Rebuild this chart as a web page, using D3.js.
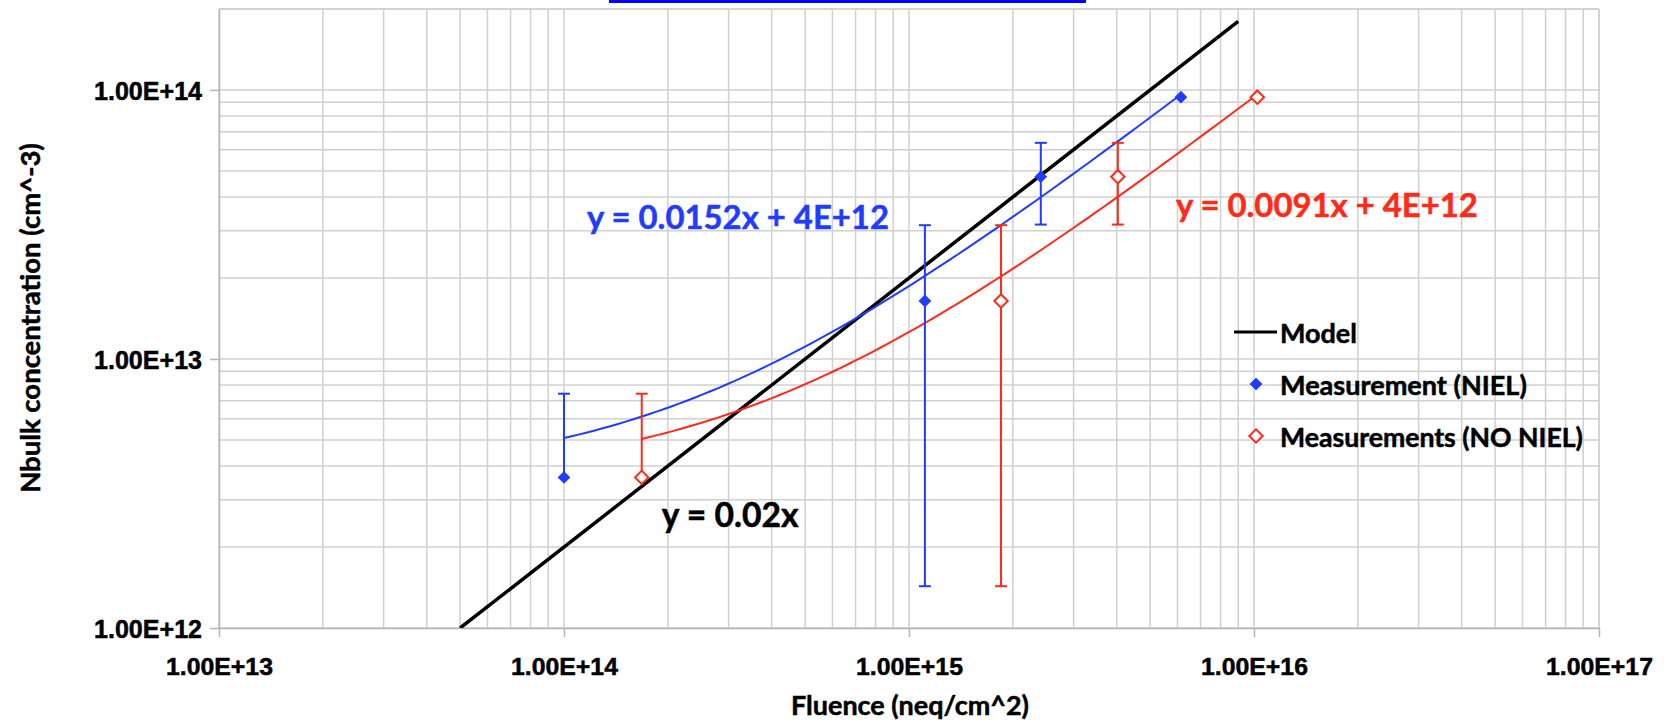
<!DOCTYPE html>
<html lang="en">
<head>
  <meta charset="UTF-8" />
  <title>Nbulk vs Fluence</title>
  <script src="https://d3js.org/d3.v7.min.js"></script>
  <style>
    body { margin: 0; background: #fff; }
    svg { font-family: Lato, "Open Sans", sans-serif; font-weight: bold; }
    svg text { stroke-width: 0.5px; }
    .grid line { stroke: #d0d0d0; stroke-width: 1.5px; }
    .axis path, .axis line { stroke: #b4b4b4; stroke-width: 1.5px; }
    .axis text { fill: #000; stroke: #000; font-size: 22px; }
    .trend { fill: none; stroke-width: 2px; }
    .err { stroke-width: 2px; }
  </style>
</head>
<body>
  <svg width="1669" height="724"></svg>

  <script>
    const xTicks = [1e13, 1e14, 1e15, 1e16, 1e17];
    const xTickLabels = ["1.00E+13", "1.00E+14", "1.00E+15", "1.00E+16", "1.00E+17"];
    const yTicks = [1e12, 1e13, 1e14];
    const yTickLabels = ["1.00E+12", "1.00E+13", "1.00E+14"];

    const fluenceNiel = [1.0e14, 1.112e15, 2.41e15, 6.14e15];
    const fluenceNoNiel = [1.68e14, 1.848e15, 4.03e15, 1.022e16];
    const nbulk = [3.63e12, 1.643e13, 4.76e13, 9.40e13];
    const nbulkErr = [3.8e12, 1.5e13, 1.6e13, 0];

    const modelFluence = [5e13, 9e15];
    const modelNbulk = [1e12, 1.8e14];

    const seriesNames = ["Model", "Measurement (NIEL)", "Measurements (NO NIEL)"];
    const equations = ["y = 0.02x", "y = 0.0152x + 4E+12", "y = 0.0091x + 4E+12"];
    // where each equation label starts (fluence, nbulk at baseline)
    const eqAnchors = [[1.92e14, 2.37e12], [1.166e14, 3.04e13], [5.94e15, 3.37e13]];

    const blue = "#1f3cff", red = "#ff2a17";
    const pLeft = 219, pRight = 1599, pTop = 9, pBottom = 628;

    const svg = d3.select("svg");

    const x = d3.scaleLog().domain([1e13, 1e17]).range([pLeft, pRight]);
    const y = d3.scaleLog().domain([1e12, 2e14]).range([pBottom, pTop]);

    // scale font so text has the wanted width
    function fit(sel, w) {
      sel.each(function () {
        const fs = parseFloat(getComputedStyle(this).fontSize);
        const len = this.getComputedTextLength();
        this.style.fontSize = (fs * w / len) + "px";
      });
    }

    // hyperlink underline cut off at the top
    svg.append("rect").attr("x", 609).attr("y", 0).attr("width", 477).attr("height", 3).attr("fill", "#0000ff");

    // grid
    const grid = svg.append("g").attr("class", "grid");
    grid.selectAll(".v").data(x.ticks()).join("line")
      .attr("x1", d => x(d)).attr("x2", d => x(d))
      .attr("y1", pTop).attr("y2", pBottom);
    grid.selectAll(".h").data(y.ticks()).join("line")
      .attr("x1", pLeft).attr("x2", pRight)
      .attr("y1", d => y(d)).attr("y2", d => y(d));
    grid.append("line").attr("x1", pLeft).attr("x2", pRight).attr("y1", pTop).attr("y2", pTop);
    grid.append("line").attr("x1", pRight).attr("x2", pRight).attr("y1", pTop).attr("y2", pBottom);

    // axes
    const xAxis = svg.append("g")
      .attr("class", "axis")
      .attr("transform", `translate(0,${pBottom})`)
      .call(d3.axisBottom(x).tickValues(xTicks).tickFormat((d, i) => xTickLabels[i]).tickSizeInner(9).tickSizeOuter(0));
    xAxis.selectAll("text").attr("y", 47).attr("dy", 0);
    fit(xAxis.selectAll("text"), 107);

    const yAxis = svg.append("g")
      .attr("class", "axis")
      .attr("transform", `translate(${pLeft},0)`)
      .call(d3.axisLeft(y).tickValues(yTicks).tickFormat((d, i) => yTickLabels[i]).tickSizeInner(9).tickSizeOuter(0));
    yAxis.selectAll("text").attr("x", -17).attr("dy", "0.36em");
    fit(yAxis.selectAll("text"), 108);

    // axis titles
    const xt = svg.append("text").attr("x", x(1e15) + 1).attr("y", 715)
      .attr("text-anchor", "middle").attr("stroke", "#000").style("font-size", "26px").text("Fluence (neq/cm^2)");
    fit(xt, 238);
    const yt = svg.append("text").attr("transform", "translate(40,318) rotate(-90)")
      .attr("text-anchor", "middle").attr("stroke", "#000").style("font-size", "26px").text("Nbulk concentration (cm^-3)");
    fit(yt, 350);

    svg.append("clipPath").attr("id", "clip")
      .append("rect").attr("x", pLeft).attr("y", pTop).attr("width", pRight - pLeft).attr("height", pBottom - pTop);
    const plot = svg.append("g").attr("clip-path", "url(#clip)");

    const line = d3.line().x(d => x(d[0])).y(d => y(d[1]));

    // model
    plot.append("path")
      .datum(modelFluence.map((f, i) => [f, modelNbulk[i]]))
      .attr("fill", "none").attr("stroke", "#000").attr("stroke-width", 3.5)
      .attr("d", line);

    // linear trendlines fitted to each measurement series
    function linFit(xs, ys) {
      const mx = d3.mean(xs), my = d3.mean(ys);
      const sxy = d3.sum(xs, (v, i) => (v - mx) * (ys[i] - my));
      const sxx = d3.sum(xs, v => (v - mx) * (v - mx));
      const m = sxy / sxx;
      return { m, b: my - m * mx };
    }

    const series = [
      { xs: fluenceNiel, color: blue, filled: true },
      { xs: fluenceNoNiel, color: red, filled: false }
    ];

    series.forEach(s => {
      const f = linFit(s.xs, nbulk);
      const lo = Math.log10(d3.min(s.xs)), hi = Math.log10(d3.max(s.xs));
      const pts = d3.range(0, 81).map(k => {
        const fx = Math.pow(10, lo + (hi - lo) * k / 80);
        return [fx, f.m * fx + f.b];
      });
      plot.append("path").datum(pts).attr("class", "trend").attr("stroke", s.color).attr("d", line);
    });

    // error bars and markers
    const diamond = d3.symbol().type(d3.symbolSquare);
    series.forEach(s => {
      const g = svg.append("g");
      s.xs.forEach((fx, i) => {
        const e = nbulkErr[i];
        if (e <= 0) return;
        const cx = x(fx);
        const hiV = nbulk[i] + e, loV = nbulk[i] - e;
        const yTop = y(hiV);
        const yBot = loV > 0 ? y(loV) : y(nbulk[i]);
        g.append("line").attr("class", "err").attr("stroke", s.color)
          .attr("x1", cx).attr("x2", cx).attr("y1", yTop).attr("y2", yBot);
        g.append("line").attr("class", "err").attr("stroke", s.color)
          .attr("x1", cx - 6).attr("x2", cx + 6).attr("y1", yTop).attr("y2", yTop);
        if (loV > 0) {
          g.append("line").attr("class", "err").attr("stroke", s.color)
            .attr("x1", cx - 6).attr("x2", cx + 6).attr("y1", yBot).attr("y2", yBot);
        }
      });
      g.selectAll("path").data(s.xs).join("path")
        .attr("transform", (d, i) => `translate(${x(d)},${y(nbulk[i])}) rotate(45)`)
        .attr("d", diamond.size(s.filled ? 64 : 90))
        .attr("fill", s.filled ? s.color : "#fff")
        .attr("stroke", s.color)
        .attr("stroke-width", s.filled ? 1 : 2);
    });

    // equation labels
    const eqColors = ["#000", blue, red];
    const eqWidths = [137, 302, 302];
    equations.forEach((t, i) => {
      const el = svg.append("text")
        .attr("x", x(eqAnchors[i][0])).attr("y", y(eqAnchors[i][1]))
        .attr("fill", eqColors[i]).attr("stroke", eqColors[i])
        .style("font-size", "32px").text(t);
      fit(el, eqWidths[i]);
    });

    // legend
    const lg = svg.append("g").attr("transform", "translate(1234,0)");
    const legY = [332, 384, 436];
    const legW = [77, 247, 303];
    lg.append("line").attr("x1", 0).attr("x2", 43).attr("y1", legY[0]).attr("y2", legY[0])
      .attr("stroke", "#000").attr("stroke-width", 3);
    lg.append("path").attr("transform", `translate(22,${legY[1]}) rotate(45)`)
      .attr("d", diamond.size(64)).attr("fill", blue).attr("stroke", blue);
    lg.append("path").attr("transform", `translate(22,${legY[2]}) rotate(45)`)
      .attr("d", diamond.size(90)).attr("fill", "#fff").attr("stroke", red).attr("stroke-width", 2);
    seriesNames.forEach((n, i) => {
      const el = lg.append("text").attr("x", 46).attr("y", legY[i] + 11)
        .attr("stroke", "#000").style("font-size", "26px").text(n);
      fit(el, legW[i]);
    });
  </script>
</body>
</html>
